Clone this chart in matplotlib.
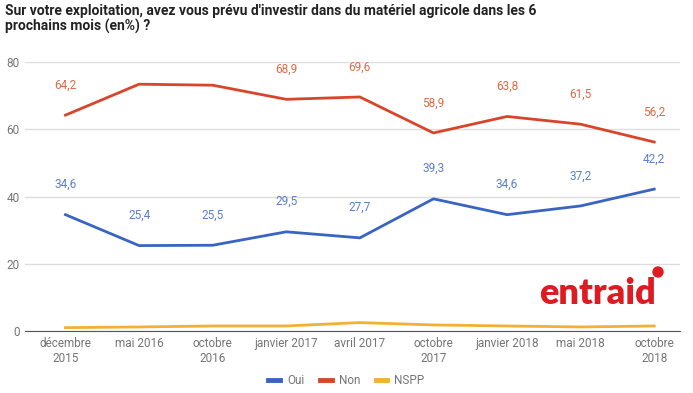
import matplotlib.pyplot as plt
from matplotlib.patches import Ellipse

plt.rcParams['font.family'] = ['Roboto', 'DejaVu Sans']

# data
periods = ['décembre\n2015', 'mai 2016', 'octobre\n2016', 'janvier 2017', 'avril 2017',
           'octobre\n2017', 'janvier 2018', 'mai 2018', 'octobre\n2018']
oui = [34.6, 25.4, 25.5, 29.5, 27.7, 39.3, 34.6, 37.2, 42.2]
non = [64.2, 73.4, 73.1, 68.9, 69.6, 58.9, 63.8, 61.5, 56.2]
nspp = [1.0, 1.2, 1.5, 1.5, 2.5, 1.8, 1.5, 1.2, 1.5]
# labels shown on the chart (None = no label)
non_labels = [64.2, None, None, 68.9, 69.6, 58.9, 63.8, 61.5, 56.2]

c_oui = '#3a64c2'
c_non = '#d8452a'
c_nspp = '#f2b134'

fig = plt.figure(figsize=(6.93, 3.93), dpi=100)
ax = fig.add_axes([25 / 693, 62 / 393, 655 / 693, 269 / 393])

x = list(range(len(periods)))
ax.plot(x, oui, color=c_oui, lw=2, label='Oui')
ax.plot(x, non, color=c_non, lw=2, label='Non')
ax.plot(x, nspp, color=c_nspp, lw=2, label='NSPP')

def fmt(v):
    return f'{v:.1f}'.replace('.', ',')

for i, v in enumerate(oui):
    ax.annotate(fmt(v), (i, v), xytext=(0, 17), textcoords='offset points',
                ha='center', va='bottom', fontsize=8.5, color='#5a7fcc')
for i, v in enumerate(non_labels):
    if v is not None:
        ax.annotate(fmt(v), (i, v), xytext=(0, 17), textcoords='offset points',
                    ha='center', va='bottom', fontsize=8.5, color='#e06a45')

ax.set_xlim(-0.55, 8.35)
ax.set_ylim(0, 80)
ax.set_yticks([0, 20, 40, 60, 80])
ax.set_xticks(x)
ax.set_xticklabels(periods)
ax.tick_params(axis='both', length=0, labelsize=8.5, colors='#757575')
ax.tick_params(axis='x', pad=4)
ax.tick_params(axis='y', pad=4)
ax.grid(axis='y', color='#dddddd', lw=1)
ax.set_axisbelow(True)
for s in ['top', 'right', 'left']:
    ax.spines[s].set_visible(False)
ax.spines['bottom'].set_color('#555555')

fig.text(5 / 693, 1 - 4 / 393,
         "Sur votre exploitation, avez vous prévu d'investir dans du matériel agricole dans les 6\nprochains mois (en%) ?",
         ha='left', va='top', fontsize=10, fontweight='bold', color='#222222', linespacing=1.05)

leg = fig.legend(loc='lower center', bbox_to_anchor=(0.5, -0.012), ncol=3, frameon=False,
                 fontsize=8.5, handlelength=1.0, handletextpad=0.6, columnspacing=1.3)
for t in leg.get_texts():
    t.set_color('#757575')
for h in leg.get_lines():
    h.set_linewidth(3.5)

# entraid logo
fig.text(597 / 693, 1 - 293 / 393, 'entraid', ha='center', va='center',
         fontsize=26, fontweight='heavy', color='#de1a22', family='Lato')
fig.add_artist(Ellipse((658 / 693, 1 - 272 / 393), 10 / 693, 10 / 393,
                       transform=fig.transFigure, color='#de1a22'))

fig.savefig('out.png', dpi=100)
